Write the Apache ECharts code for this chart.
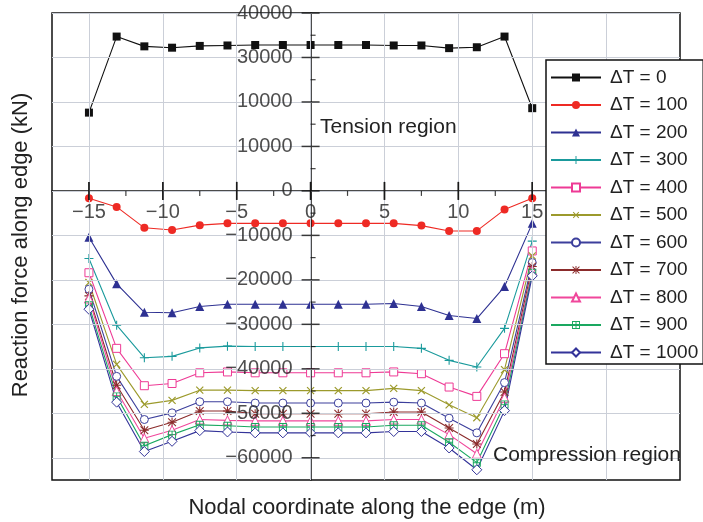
<!DOCTYPE html>
<html>
<head>
<meta charset="utf-8">
<script src="https://cdn.jsdelivr.net/npm/echarts@6/dist/echarts.min.js"></script>
<style>
html,body{margin:0;padding:0;background:#fff;}
#chart{width:703px;height:522px;}
</style>
</head>
<body>
<div id="chart"></div>
<script>
// ---- data ----
var xCoords = [-15, -13.125, -11.25, -9.375, -7.5, -5.625, -3.75, -1.875, 0, 1.875, 3.75, 5.625, 7.5, 9.375, 11.25, 13.125, 15];
var seriesNames = ['ΔT = 0','ΔT = 100','ΔT = 200','ΔT = 300','ΔT = 400','ΔT = 500','ΔT = 600','ΔT = 700','ΔT = 800','ΔT = 900','ΔT = 1000'];
var dT0    = [17600, 34700, 32500, 32200, 32600, 32700, 32800, 32800, 32800, 32800, 32800, 32700, 32700, 32100, 32300, 34700, 18600];
var dT100  = [-1650, -3600, -8300, -8800, -7700, -7300, -7300, -7300, -7300, -7300, -7300, -7300, -7800, -9000, -9000, -4200, -1650];
var dT200  = [-10400, -20900, -27300, -27400, -26000, -25500, -25500, -25500, -25500, -25500, -25500, -25300, -26000, -28000, -28700, -21500, -7300];
var dT300  = [-15200, -30200, -37500, -37200, -35300, -34900, -35000, -35000, -35000, -35000, -35000, -35000, -35400, -38100, -39600, -30900, -11300];
var dT400  = [-18400, -35400, -43800, -43300, -40900, -40700, -40900, -40900, -40900, -40900, -40900, -40700, -41100, -44100, -46200, -36600, -13500];
var dT500  = [-20600, -39000, -48000, -47100, -44800, -44800, -44900, -44900, -44900, -44900, -44900, -44400, -44900, -48100, -51000, -40200, -14600];
var dT600  = [-22100, -41700, -51400, -49900, -47400, -47400, -47700, -47700, -47700, -47700, -47700, -47500, -47700, -51100, -54400, -43100, -16100];
var dT700  = [-23600, -43700, -53800, -52000, -49500, -49500, -50100, -50100, -50100, -50100, -50100, -49700, -49700, -53300, -56900, -45200, -17000];
var dT800  = [-24200, -45000, -55600, -53800, -51400, -51600, -51700, -51700, -51700, -51700, -51700, -51400, -51400, -54800, -59100, -46500, -17900];
var dT900  = [-25700, -46200, -57300, -54800, -52600, -52800, -53100, -53100, -53100, -53100, -53100, -52700, -52700, -56500, -61100, -48000, -18400];
var dT1000 = [-26600, -47500, -58600, -56300, -53900, -54200, -54400, -54400, -54400, -54400, -54400, -54100, -54100, -57800, -62700, -49400, -19100];

var xTickValues = [-15, -10, -5, 0, 5, 10, 15, 20];
var xLabelValues = [-15, -10, -5, 0, 5, 10, 15];
var xTickLabels = ['\u221215', '\u221210', '\u22125', '0', '5', '10', '15'];
var xMinorTickValues = [-12.5, -7.5, -2.5, 2.5, 7.5, 12.5, 17.5, 22.5];
var yTickValues = [40000, 30000, 20000, 10000, 0, -10000, -20000, -30000, -40000, -50000, -60000];
var yTickLabels = ['40000', '30000', '10000', '10000', '0', '\u221210000', '\u221220000', '\u221230000', '\u221240000', '\u221250000', '\u221260000'];
var yMinorTickValues = [35000, 25000, 15000, 5000, -5000, -15000, -25000, -35000, -45000, -55000];

// ---- styling ----
var FONT = 'Liberation Sans, Arial, sans-serif';
var colors = ['#111111', '#ee2a24', '#2e3192', '#1a9a9c', '#ee3a95', '#9c9a2c', '#3c3f9c', '#8b2b2b', '#f0479b', '#1aa860', '#333399'];
var PLUS = 'path://M4.4,0h1.2v10h-1.2z M0,4.4h10v1.2h-10z';
var STAR = 'path://M4.4,0h1.2v10h-1.2z M0,4.4h10v1.2h-10z M1.1,0.3L9.7,8.9L8.9,9.7L0.3,1.1z M8.9,0.3L9.7,1.1L1.1,9.7L0.3,8.9z';
var BOXPLUS = 'path://M0,0h10v1.2h-10z M0,8.8h10v1.2h-10z M0,0h1.2v10h-1.2z M8.8,0h1.2v10h-1.2z M4.4,0h1.2v10h-1.2z M0,4.4h10v1.2h-10z';
var symbols = [
  {symbol: 'rect', size: 8, hollow: false},
  {symbol: 'circle', size: 8, hollow: false},
  {symbol: 'triangle', size: 9, hollow: false},
  {symbol: PLUS, size: 9, hollow: false},
  {symbol: 'rect', size: 8, hollow: true},
  {symbol: PLUS, size: 10, hollow: false, rotate: 45},
  {symbol: 'circle', size: 8, hollow: true},
  {symbol: STAR, size: 9, hollow: false},
  {symbol: 'triangle', size: 9, hollow: true},
  {symbol: BOXPLUS, size: 8, hollow: false},
  {symbol: 'diamond', size: 10, hollow: true}
];
var allData = [dT0, dT100, dT200, dT300, dT400, dT500, dT600, dT700, dT800, dT900, dT1000];

var series = allData.map(function (vals, i) {
  var s = symbols[i];
  return {
    name: seriesNames[i],
    type: 'line',
    data: vals.map(function (v, j) { return [xCoords[j], v]; }),
    symbol: s.symbol,
    symbolSize: s.size,
    symbolRotate: s.rotate || 0,
    showAllSymbol: true,
    lineStyle: {color: colors[i], width: 1.1},
    itemStyle: s.hollow ? {color: '#ffffff', borderColor: colors[i], borderWidth: 1} : {color: colors[i], borderWidth: 0},
    emphasis: {disabled: true},
    animation: false,
    z: 3
  };
});

// grid lines drawn along the axis tick values
var gridLineStyle = {color: '#cbcfd8', width: 1, type: 'solid'};
series.push({
  type: 'line',
  data: [],
  silent: true,
  z: 1,
  markLine: {
    silent: true,
    symbol: ['none', 'none'],
    label: {show: false},
    lineStyle: gridLineStyle,
    emphasis: {disabled: true},
    animation: false,
    data: xTickValues.map(function (v) { return {xAxis: v}; })
      .concat(yTickValues.map(function (v) { return {yAxis: v}; }))
  }
});

// crossing tick marks (and tick labels) on the zero axes, placed via the axis scales
function tickSeries(points, size, offset, label) {
  return {
    type: 'scatter',
    data: points,
    symbol: 'rect',
    symbolSize: size,
    symbolOffset: offset || [0, 0],
    itemStyle: {color: '#111'},
    label: label || {show: false},
    silent: true,
    emphasis: {disabled: true},
    animation: false,
    z: 6
  };
}
var labelText = {show: true, fontSize: 20, color: '#222', fontFamily: FONT};
series.push(tickSeries(xTickValues.map(function (v) { return [v, 0]; }), [1.5, 18]));
series.push(tickSeries(xLabelValues.map(function (v) { return [v, 0]; }), [1.5, 18], [0, 0],
  Object.assign({position: 'bottom', distance: 3, formatter: function (p) {
    return xTickLabels[xLabelValues.indexOf(p.value[0])];
  }}, labelText)));
series.push(tickSeries(yTickValues.map(function (v) { return [0, v]; }), [18, 1.5], [0, 0],
  Object.assign({position: 'left', distance: 9, formatter: function (p) {
    return yTickLabels[yTickValues.indexOf(p.value[1])];
  }}, labelText)));
series.push(tickSeries(xMinorTickValues.map(function (v) { return [v, 0]; }), [1.2, 5], [0, 2.5]));
series.push(tickSeries(yMinorTickValues.map(function (v) { return [0, v]; }), [5, 1.2], [2.5, 0]));

var axisLineStyle = {color: '#111', width: 1.5};
var option = {
  backgroundColor: '#ffffff',
  animation: false,
  textStyle: {fontFamily: FONT},
  grid: {left: 52, top: 13, right: 23, bottom: 42, show: true, borderColor: '#111', borderWidth: 1.5,
         containLabel: false, outerBoundsMode: 'none'},
  xAxis: {
    type: 'value', min: -17.5, max: 25, position: 'bottom',
    axisLine: {onZero: true, lineStyle: axisLineStyle},
    axisTick: {show: false},
    axisLabel: {show: false},
    splitLine: {show: false},
    z: 4
  },
  yAxis: {
    type: 'value', min: -65000, max: 40000, position: 'left',
    axisLine: {onZero: true, lineStyle: axisLineStyle},
    axisTick: {show: false},
    axisLabel: {show: false},
    splitLine: {show: false},
    z: 4
  },
  legend: {
    data: seriesNames,
    orient: 'vertical',
    left: 546, top: 60,
    padding: [8, 5, 2, 4],
    itemWidth: 50, itemHeight: 10, itemGap: 8.5,
    backgroundColor: '#ffffff',
    borderColor: '#111', borderWidth: 1.5, borderRadius: 0,
    textStyle: {fontSize: 19, color: '#222', fontFamily: FONT, padding: [0, 0, 0, 4]},
    selectedMode: false,
    z: 10
  },
  graphic: [
    {type: 'text', x: 320, y: 127, z: 20, style: {text: 'Tension region', fontSize: 21, fill: '#222', fontFamily: FONT, textVerticalAlign: 'middle'}},
    {type: 'text', x: 493, y: 455, z: 20, style: {text: 'Compression region', fontSize: 21, fill: '#222', fontFamily: FONT, textVerticalAlign: 'middle'}},
    {type: 'text', x: 367, y: 508, z: 20, style: {text: 'Nodal coordinate along the edge (m)', fontSize: 22, fill: '#222', fontFamily: FONT, textAlign: 'center', textVerticalAlign: 'middle'}},
    {type: 'text', x: 21, y: 245, rotation: Math.PI / 2, z: 20, style: {text: 'Reaction force along edge (kN)', fontSize: 22, fill: '#222', fontFamily: FONT, textAlign: 'center', textVerticalAlign: 'middle'}}
  ],
  series: series
};

var chart = echarts.init(document.getElementById('chart'), null, {renderer: 'canvas'});
chart.setOption(option);
</script>
</body>
</html>
